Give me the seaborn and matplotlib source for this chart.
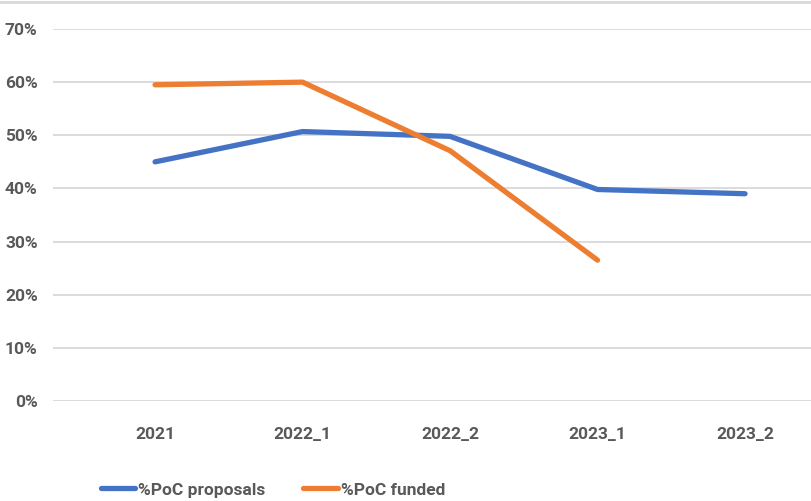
import pandas as pd
import matplotlib
matplotlib.use("Agg")
import matplotlib.pyplot as plt
import seaborn as sns
from matplotlib.ticker import PercentFormatter

# Data
periods = ["2021", "2022_1", "2022_2", "2023_1", "2023_2"]
proposals = [0.450, 0.507, 0.498, 0.398, 0.390]
funded = [0.595, 0.600, 0.471, 0.265]  # no value for 2023_2

df = pd.concat([
    pd.DataFrame({"period": periods, "value": proposals, "series": "%PoC proposals"}),
    pd.DataFrame({"period": periods[:len(funded)], "value": funded, "series": "%PoC funded"}),
])

sns.set_theme(style="whitegrid")
plt.rcParams["font.family"] = ["Roboto", "DejaVu Sans"]
fsize = 12.5

fig = plt.figure(figsize=(8.12, 5.01), dpi=100)
ax = fig.add_axes([53 / 812, 100 / 501, 1 - 53 / 812, 372 / 501])

sns.lineplot(data=df, x="period", y="value", hue="series", sort=False,
             palette={"%PoC proposals": "#4472C4", "%PoC funded": "#ED7D31"},
             linewidth=3.8, ax=ax, legend=True)
for ln in ax.get_lines():
    ln.set_solid_capstyle("round")

ax.set_ylim(0, 0.70)
ax.set_yticks([i / 10 for i in range(8)])
ax.yaxis.set_major_formatter(PercentFormatter(1.0, decimals=0))
ax.set_xlim(-0.692, 4.454)
ax.set_xlabel("")
ax.set_ylabel("")
ax.grid(axis="y", color="#D9D9D9", linewidth=1.3)
ax.grid(axis="x", visible=False)
for s in ax.spines.values():
    s.set_visible(False)
ax.tick_params(axis="y", length=0, pad=11, labelsize=fsize, labelcolor="#595959")
ax.tick_params(axis="x", length=0, pad=19, labelsize=fsize, labelcolor="#595959")
for lab in ax.get_xticklabels() + ax.get_yticklabels():
    lab.set_fontweight("bold")
ax.set_facecolor("white")

handles, labels = ax.get_legend_handles_labels()
ax.get_legend().remove()
leg = fig.legend(handles, labels, loc="center", bbox_to_anchor=(0.336, 0.022),
                 ncol=2, frameon=False, handlelength=2.0, handletextpad=0.15,
                 columnspacing=2.2, prop={"size": fsize, "weight": "bold"})
for t in leg.get_texts():
    t.set_color("#595959")

# thin border line at the top of the image
fig.add_artist(plt.Line2D([0, 1], [0.997, 0.997], color="#D9D9D9", linewidth=2))

fig.savefig("out.png", dpi=100, facecolor="white")
